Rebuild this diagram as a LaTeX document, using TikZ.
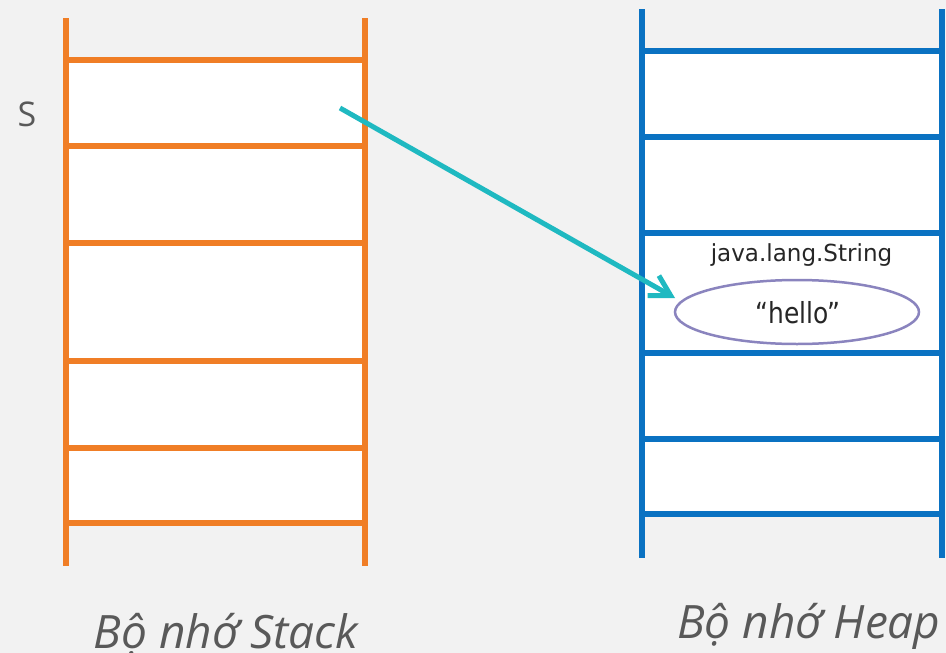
\documentclass[tikz,border=0pt]{standalone}
\usepackage{fontspec}
\setmainfont{Open Sans}
\newfontfamily\codefont{DejaVu Sans}
\usetikzlibrary{arrows.meta,shapes.geometric,calc}
\definecolor{bg}{HTML}{F2F2F2}
\definecolor{stackc}{HTML}{F07E26}
\definecolor{heapc}{HTML}{0A72C2}
\definecolor{arrowc}{HTML}{1FB9C1}
\definecolor{txt}{HTML}{595959}
\definecolor{ell}{HTML}{8A84BE}
\begin{document}
\begin{tikzpicture}[x=1pt,y=-1pt,
  stackline/.style={draw=stackc,line width=5.5pt},
  heapline/.style={draw=heapc,line width=5.5pt},
  lbl/.style={text=txt,font=\fontsize{46}{50}\selectfont\itshape,inner sep=0pt,anchor=base},
  codetext/.style={text=black!85,inner sep=0pt,anchor=base},
  ptr/.style={draw=arrowc,line width=5pt,-{Straight Barb[length=20pt,width=23pt]}}
  ]
\useasboundingbox[fill=bg] (0,0) rectangle (946,653);
% stack
\fill[white] (66,60) rectangle (365,523);
\foreach \y in {60,146,243,361,448,523} \draw[stackline] (66,\y) -- (365,\y);
\draw[stackline] (66,18) -- (66,566);
\draw[stackline] (365,18) -- (365,566);
% heap
\fill[white] (642,51) rectangle (942,514);
\foreach \y in {51,137,233,353,439,514} \draw[heapline] (642,\y) -- (942,\y);
\draw[heapline] (642,9) -- (642,558);
\draw[heapline] (942,9) -- (942,558);
% contents
\node[codetext,font=\codefont\fontsize{23.5}{26}\selectfont] (cls) at (801.5,261) {\scalebox{0.98}[1]{java.lang.String}};
\node[ellipse,draw=ell,line width=2.5pt,fill=white,minimum width=244pt,minimum height=64pt,inner sep=0pt,outer sep=0pt] (hello) at (797,312) {};
\node[codetext,font=\codefont\fontsize{29}{32}\selectfont] (hellotxt) at (798,323) {\scalebox{0.86}[1]{“hello”}};
\node[text=txt,font=\fontsize{34}{38}\selectfont,inner sep=0pt,anchor=base] (s) at (27,126) {S};
\coordinate (sptr) at (340,108);
\draw[ptr] (sptr) -- ($(hello.west)+(0,-14)$);
% labels
\node[lbl] (stacklbl) at (226,648) {Bộ nhớ Stack};
\node[lbl] (heaplbl) at (809,638) {Bộ nhớ Heap};
\end{tikzpicture}
\end{document}
